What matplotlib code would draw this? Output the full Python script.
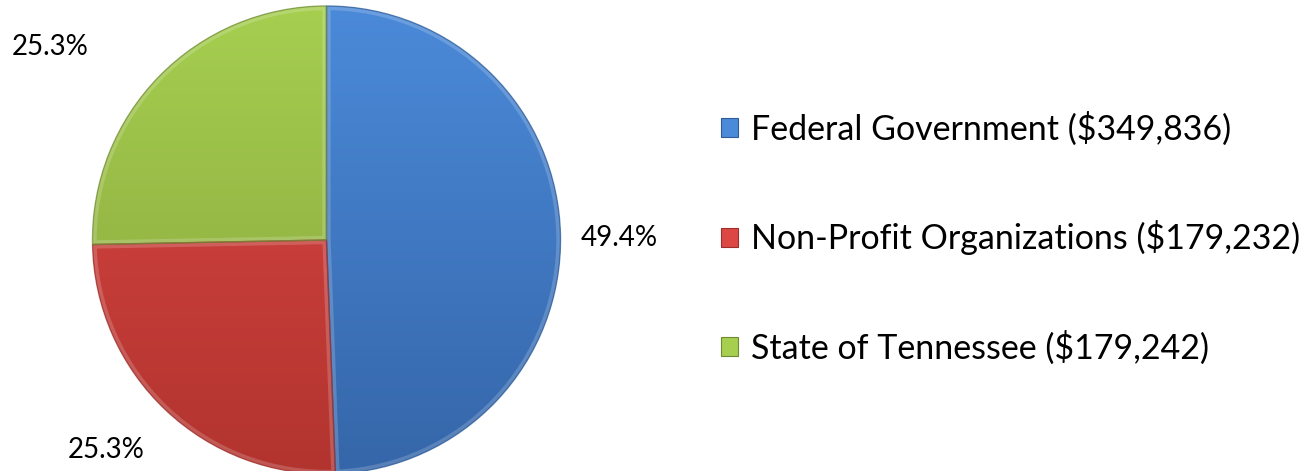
import numpy as np
import matplotlib
matplotlib.use('Agg')
import matplotlib.pyplot as plt
from matplotlib.colors import LinearSegmentedColormap
from matplotlib.patches import Wedge

plt.rcParams['font.family'] = ['Lato', 'DejaVu Sans']

# funding sources
sources = ['Federal Government', 'Non-Profit Organizations', 'State of Tennessee']
amounts = [349836, 179232, 179242]
# light (top) and dark (bottom) shade of each slice
shades = [('#4b8ad9', '#3566a9'),
          ('#dc4744', '#b2342f'),
          ('#a6cf50', '#86a13b')]
edge_colors = ['#2f5c96', '#9c2f2b', '#6f8a33']
# label placement: (radius factor, angle nudge in degrees)
label_place = [(1.25, -0.7), (1.30, -3.0), (1.44, 9.5)]

W, H = 1314, 471
fig = plt.figure(figsize=(W / 100, H / 100), dpi=100)
ax = fig.add_axes([0, 0, 1, 1])

cx, cy, r = 326.5, H - 240, 234
wedges, _ = ax.pie(amounts, colors=[s[0] for s in shades], startangle=90,
                   counterclock=False, center=(cx, cy), radius=r,
                   wedgeprops=dict(linewidth=0))

# vertical gradient in each slice
grad = np.linspace(0, 1, 256).reshape(-1, 1)
for w, (top, bot), ec in zip(wedges, shades, edge_colors):
    cmap = LinearSegmentedColormap.from_list('sh', [top, bot])
    im = ax.imshow(grad, cmap=cmap, extent=[cx - r, cx + r, cy - r, cy + r],
                   origin='upper', aspect='auto', zorder=2, interpolation='bilinear')
    im.set_clip_path(w)
    # soft light rim on the inside of the slice
    rim = Wedge((cx, cy), r, w.theta1, w.theta2, facecolor='none',
                edgecolor='white', linewidth=6, alpha=0.18, zorder=3)
    ax.add_patch(rim)
    rim.set_clip_path(w)
    outline = Wedge((cx, cy), r, w.theta1, w.theta2, facecolor='none',
                    edgecolor=ec, linewidth=1.0, alpha=0.7, zorder=4)
    ax.add_patch(outline)

# percentage labels outside the slices
total = sum(amounts)
for w, amt, (fac, nudge) in zip(wedges, amounts, label_place):
    mid = np.deg2rad((w.theta1 + w.theta2) / 2 + nudge)
    ax.text(cx + fac * r * np.cos(mid), cy + fac * r * np.sin(mid),
            '{:.1f}%'.format(100 * amt / total), fontsize=20,
            ha='center', va='center', color='black')

ax.set_xlim(0, W)
ax.set_ylim(0, H)
ax.set_aspect('equal')
ax.axis('off')

labels = ['{} (${:,})'.format(s, a) for s, a in zip(sources, amounts)]
leg = ax.legend(wedges, labels, loc='center left',
                bbox_to_anchor=(721 / W, 1 - 238 / H), bbox_transform=fig.transFigure,
                frameon=False, fontsize=24.5, handlelength=0.5, handleheight=0.5,
                handletextpad=0.37, labelspacing=2.2, borderpad=0, borderaxespad=0)
for h, ec in zip(leg.legend_handles, edge_colors):
    h.set_edgecolor(ec)
    h.set_linewidth(0.8)

fig.savefig('out.png', dpi=100, facecolor='white')
